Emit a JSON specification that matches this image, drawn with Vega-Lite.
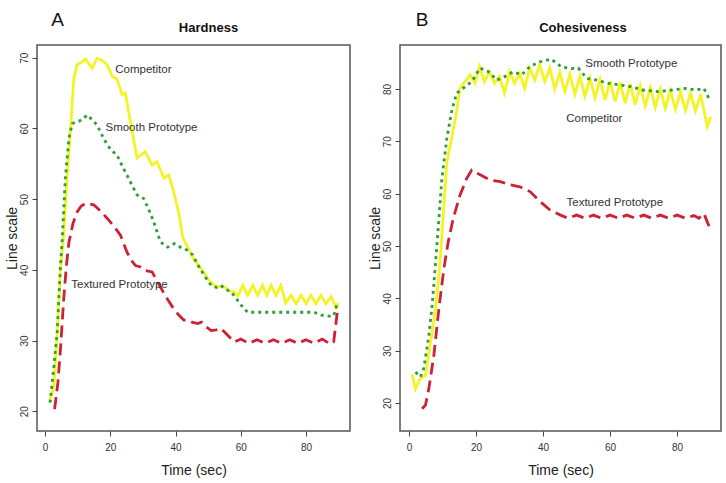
{
  "$schema": "https://vega.github.io/schema/vega-lite/v6.json",
  "background": "white",
  "padding": {"left": 4, "top": 10, "right": 0, "bottom": 0},
  "spacing": 16,
  "config": {
    "font": "Liberation Sans",
    "view": {"stroke": "#555", "strokeWidth": 1.5},
    "axis": {"grid": false, "domain": false, "tickColor": "#444", "tickSize": 5, "labelColor": "#333", "labelFontSize": 10, "labelFont": "Liberation Sans", "titleFont": "Liberation Sans", "titleFontSize": 14, "titleFontWeight": "normal", "titleColor": "#222"}
  },
  "datasets": {
    "hardness": [
      {"series":"Competitor","t":1.3,"v":21.3},{"series":"Competitor","t":2.7,"v":23.6},{"series":"Competitor","t":3.7,"v":31.2},{"series":"Competitor","t":4.7,"v":40},{"series":"Competitor","t":5.7,"v":45},{"series":"Competitor","t":6.7,"v":53},{"series":"Competitor","t":7.8,"v":60},{"series":"Competitor","t":8.8,"v":67.1},{"series":"Competitor","t":9.8,"v":69},{"series":"Competitor","t":11,"v":69.3},{"series":"Competitor","t":12.4,"v":69.8},{"series":"Competitor","t":14.4,"v":68.5},{"series":"Competitor","t":15.9,"v":69.9},{"series":"Competitor","t":17.5,"v":69.6},{"series":"Competitor","t":19,"v":69},{"series":"Competitor","t":20.5,"v":67.4},{"series":"Competitor","t":22,"v":67},{"series":"Competitor","t":23.6,"v":64.8},{"series":"Competitor","t":24.6,"v":65},{"series":"Competitor","t":26.5,"v":60},{"series":"Competitor","t":28.2,"v":55.8},{"series":"Competitor","t":30.7,"v":56.7},{"series":"Competitor","t":32.8,"v":54.8},{"series":"Competitor","t":34.3,"v":55.3},{"series":"Competitor","t":36.4,"v":53},{"series":"Competitor","t":37.9,"v":53.4},{"series":"Competitor","t":39.4,"v":51.1},{"series":"Competitor","t":41,"v":48},{"series":"Competitor","t":42.2,"v":44.6},{"series":"Competitor","t":43.7,"v":43.2},{"series":"Competitor","t":45.8,"v":41.3},{"series":"Competitor","t":47.8,"v":40.2},{"series":"Competitor","t":49.9,"v":38.7},{"series":"Competitor","t":51.9,"v":37.8},{"series":"Competitor","t":53.5,"v":37.6},{"series":"Competitor","t":55,"v":37.6},{"series":"Competitor","t":56.5,"v":37},{"series":"Competitor","t":58,"v":36.9},{"series":"Competitor","t":59.1,"v":36.3},{"series":"Competitor","t":60.6,"v":37.8},{"series":"Competitor","t":62.1,"v":36.4},{"series":"Competitor","t":63.7,"v":37.8},{"series":"Competitor","t":65.2,"v":36.4},{"series":"Competitor","t":66.7,"v":37.8},{"series":"Competitor","t":68,"v":36.4},{"series":"Competitor","t":69.3,"v":37.8},{"series":"Competitor","t":70.8,"v":36.4},{"series":"Competitor","t":72.3,"v":37.8},{"series":"Competitor","t":73.8,"v":35.3},{"series":"Competitor","t":75.4,"v":36.4},{"series":"Competitor","t":77,"v":35.2},{"series":"Competitor","t":78.5,"v":36.4},{"series":"Competitor","t":80,"v":35.2},{"series":"Competitor","t":81.5,"v":36.4},{"series":"Competitor","t":83,"v":35.2},{"series":"Competitor","t":84.6,"v":36.4},{"series":"Competitor","t":86.1,"v":35.2},{"series":"Competitor","t":87.7,"v":36.2},{"series":"Competitor","t":89.2,"v":34.7},{"series":"Competitor","t":90,"v":35.3},
      {"series":"Smooth Prototype","t":1.5,"v":21.2},{"series":"Smooth Prototype","t":2.6,"v":26},{"series":"Smooth Prototype","t":3.7,"v":31.2},{"series":"Smooth Prototype","t":4.7,"v":40.6},{"series":"Smooth Prototype","t":5.2,"v":44},{"series":"Smooth Prototype","t":6.2,"v":53},{"series":"Smooth Prototype","t":7.3,"v":58.6},{"series":"Smooth Prototype","t":8.3,"v":60.7},{"series":"Smooth Prototype","t":10.3,"v":61},{"series":"Smooth Prototype","t":11.5,"v":61.3},{"series":"Smooth Prototype","t":12.9,"v":61.9},{"series":"Smooth Prototype","t":14.3,"v":61.3},{"series":"Smooth Prototype","t":15.9,"v":60.5},{"series":"Smooth Prototype","t":17.5,"v":59},{"series":"Smooth Prototype","t":19,"v":57.7},{"series":"Smooth Prototype","t":20.5,"v":56.8},{"series":"Smooth Prototype","t":22,"v":56.3},{"series":"Smooth Prototype","t":23.5,"v":54.8},{"series":"Smooth Prototype","t":25.1,"v":53.4},{"series":"Smooth Prototype","t":26.6,"v":52},{"series":"Smooth Prototype","t":28.2,"v":50.6},{"series":"Smooth Prototype","t":30.2,"v":50.1},{"series":"Smooth Prototype","t":31.8,"v":48.5},{"series":"Smooth Prototype","t":33.3,"v":46.8},{"series":"Smooth Prototype","t":35.3,"v":44},{"series":"Smooth Prototype","t":36.5,"v":43.5},{"series":"Smooth Prototype","t":37.6,"v":43.2},{"series":"Smooth Prototype","t":39.6,"v":43.7},{"series":"Smooth Prototype","t":42.2,"v":43},{"series":"Smooth Prototype","t":43.5,"v":42.8},{"series":"Smooth Prototype","t":45.3,"v":42.1},{"series":"Smooth Prototype","t":46.8,"v":40.7},{"series":"Smooth Prototype","t":48.8,"v":39.2},{"series":"Smooth Prototype","t":50.9,"v":37.8},{"series":"Smooth Prototype","t":52.5,"v":37.5},{"series":"Smooth Prototype","t":53.9,"v":37.8},{"series":"Smooth Prototype","t":55.5,"v":37.2},{"series":"Smooth Prototype","t":57,"v":36.9},{"series":"Smooth Prototype","t":58.5,"v":36},{"series":"Smooth Prototype","t":60.1,"v":35},{"series":"Smooth Prototype","t":62.1,"v":34},{"series":"Smooth Prototype","t":65,"v":34},{"series":"Smooth Prototype","t":68,"v":34},{"series":"Smooth Prototype","t":71,"v":34},{"series":"Smooth Prototype","t":74,"v":34},{"series":"Smooth Prototype","t":77,"v":34},{"series":"Smooth Prototype","t":80,"v":34},{"series":"Smooth Prototype","t":82.5,"v":34},{"series":"Smooth Prototype","t":84.6,"v":33.6},{"series":"Smooth Prototype","t":87.7,"v":33.4},{"series":"Smooth Prototype","t":88.5,"v":33.5},{"series":"Smooth Prototype","t":89.7,"v":35.4},
      {"series":"Textured Prototype","t":2.9,"v":20.3},{"series":"Textured Prototype","t":3.9,"v":24},{"series":"Textured Prototype","t":4.7,"v":28.8},{"series":"Textured Prototype","t":5.7,"v":35.9},{"series":"Textured Prototype","t":6.5,"v":40.5},{"series":"Textured Prototype","t":7.3,"v":43.9},{"series":"Textured Prototype","t":8.5,"v":46.5},{"series":"Textured Prototype","t":9.8,"v":48.2},{"series":"Textured Prototype","t":11,"v":49},{"series":"Textured Prototype","t":12.4,"v":49.4},{"series":"Textured Prototype","t":14.9,"v":49.2},{"series":"Textured Prototype","t":17,"v":48.3},{"series":"Textured Prototype","t":19,"v":47.3},{"series":"Textured Prototype","t":21,"v":46.2},{"series":"Textured Prototype","t":23.1,"v":44.9},{"series":"Textured Prototype","t":25.1,"v":42.5},{"series":"Textured Prototype","t":26.5,"v":41.3},{"series":"Textured Prototype","t":27.7,"v":40.6},{"series":"Textured Prototype","t":29.2,"v":40.4},{"series":"Textured Prototype","t":30.7,"v":39.9},{"series":"Textured Prototype","t":32.8,"v":39.7},{"series":"Textured Prototype","t":34,"v":38.7},{"series":"Textured Prototype","t":35.3,"v":37.6},{"series":"Textured Prototype","t":37.3,"v":36},{"series":"Textured Prototype","t":39.4,"v":34.5},{"series":"Textured Prototype","t":41,"v":33.6},{"series":"Textured Prototype","t":42.5,"v":32.9},{"series":"Textured Prototype","t":43.7,"v":32.9},{"series":"Textured Prototype","t":45,"v":32.6},{"series":"Textured Prototype","t":46.8,"v":32.4},{"series":"Textured Prototype","t":48,"v":32.6},{"series":"Textured Prototype","t":49.5,"v":31.9},{"series":"Textured Prototype","t":50.9,"v":31.4},{"series":"Textured Prototype","t":52.5,"v":31.5},{"series":"Textured Prototype","t":53.9,"v":31.7},{"series":"Textured Prototype","t":55,"v":31.2},{"series":"Textured Prototype","t":56.5,"v":30.5},{"series":"Textured Prototype","t":58,"v":29.8},{"series":"Textured Prototype","t":60,"v":30.2},{"series":"Textured Prototype","t":62.5,"v":29.6},{"series":"Textured Prototype","t":65,"v":30.1},{"series":"Textured Prototype","t":67.5,"v":29.6},{"series":"Textured Prototype","t":70,"v":30.1},{"series":"Textured Prototype","t":72.5,"v":29.6},{"series":"Textured Prototype","t":75,"v":30.1},{"series":"Textured Prototype","t":77.5,"v":29.6},{"series":"Textured Prototype","t":80,"v":30.1},{"series":"Textured Prototype","t":82.5,"v":29.6},{"series":"Textured Prototype","t":85,"v":30.2},{"series":"Textured Prototype","t":87.5,"v":29.5},{"series":"Textured Prototype","t":88.5,"v":29.8},{"series":"Textured Prototype","t":89.7,"v":34.4}
    ],
    "cohesiveness": [
      {"series":"Competitor","t":0.9,"v":25.5},{"series":"Competitor","t":1.9,"v":22.7},{"series":"Competitor","t":3.3,"v":24.6},{"series":"Competitor","t":4.9,"v":25.3},{"series":"Competitor","t":6.5,"v":32},{"series":"Competitor","t":7.9,"v":38},{"series":"Competitor","t":9,"v":45},{"series":"Competitor","t":9.8,"v":52},{"series":"Competitor","t":11.3,"v":66.1},{"series":"Competitor","t":12.7,"v":70.6},{"series":"Competitor","t":14.2,"v":75.7},{"series":"Competitor","t":15.2,"v":80.1},{"series":"Competitor","t":16.7,"v":81.4},{"series":"Competitor","t":18.2,"v":82.7},{"series":"Competitor","t":19.7,"v":81.1},{"series":"Competitor","t":21,"v":84.3},{"series":"Competitor","t":22.5,"v":81.4},{"series":"Competitor","t":24,"v":83.3},{"series":"Competitor","t":25.5,"v":81.1},{"series":"Competitor","t":27,"v":82.4},{"series":"Competitor","t":28.5,"v":79.2},{"series":"Competitor","t":30,"v":83.3},{"series":"Competitor","t":31.5,"v":81.1},{"series":"Competitor","t":33,"v":83},{"series":"Competitor","t":34.5,"v":80.1},{"series":"Competitor","t":36,"v":84},{"series":"Competitor","t":37.5,"v":81.7},{"series":"Competitor","t":39,"v":84.6},{"series":"Competitor","t":40.5,"v":81.4},{"series":"Competitor","t":42,"v":84},{"series":"Competitor","t":43.5,"v":80},{"series":"Competitor","t":45,"v":83.2},{"series":"Competitor","t":46.5,"v":79.5},{"series":"Competitor","t":48,"v":82.8},{"series":"Competitor","t":49.5,"v":79},{"series":"Competitor","t":51,"v":82.4},{"series":"Competitor","t":52.5,"v":78.6},{"series":"Competitor","t":54,"v":82.1},{"series":"Competitor","t":55.5,"v":78.3},{"series":"Competitor","t":57,"v":81.8},{"series":"Competitor","t":58.5,"v":77.9},{"series":"Competitor","t":60,"v":81.5},{"series":"Competitor","t":61.5,"v":77.6},{"series":"Competitor","t":63,"v":81.2},{"series":"Competitor","t":64.5,"v":77.3},{"series":"Competitor","t":66,"v":81},{"series":"Competitor","t":67.5,"v":77},{"series":"Competitor","t":69,"v":80.6},{"series":"Competitor","t":70.5,"v":76.8},{"series":"Competitor","t":72,"v":80.3},{"series":"Competitor","t":73.5,"v":76.5},{"series":"Competitor","t":75,"v":80},{"series":"Competitor","t":76.5,"v":76.3},{"series":"Competitor","t":78,"v":79.7},{"series":"Competitor","t":79.5,"v":76.1},{"series":"Competitor","t":81,"v":79.4},{"series":"Competitor","t":82.5,"v":75.9},{"series":"Competitor","t":84,"v":79.2},{"series":"Competitor","t":85.5,"v":75.8},{"series":"Competitor","t":87,"v":79},{"series":"Competitor","t":88,"v":76},{"series":"Competitor","t":89,"v":72.8},{"series":"Competitor","t":90,"v":74.7},
      {"series":"Smooth Prototype","t":1.9,"v":25.9},{"series":"Smooth Prototype","t":3.4,"v":25},{"series":"Smooth Prototype","t":4.4,"v":26.6},{"series":"Smooth Prototype","t":5.9,"v":32.9},{"series":"Smooth Prototype","t":6.9,"v":38.7},{"series":"Smooth Prototype","t":8.4,"v":50.8},{"series":"Smooth Prototype","t":9.8,"v":62.9},{"series":"Smooth Prototype","t":11.3,"v":70.6},{"series":"Smooth Prototype","t":12.7,"v":75.7},{"series":"Smooth Prototype","t":14.2,"v":79.2},{"series":"Smooth Prototype","t":16.7,"v":80.4},{"series":"Smooth Prototype","t":18.7,"v":81.4},{"series":"Smooth Prototype","t":21.2,"v":84},{"series":"Smooth Prototype","t":23.7,"v":83.3},{"series":"Smooth Prototype","t":26.2,"v":81.7},{"series":"Smooth Prototype","t":28.7,"v":82.4},{"series":"Smooth Prototype","t":31.1,"v":83.3},{"series":"Smooth Prototype","t":33.6,"v":82.7},{"series":"Smooth Prototype","t":36.1,"v":84.3},{"series":"Smooth Prototype","t":39.1,"v":85.2},{"series":"Smooth Prototype","t":42.4,"v":85.7},{"series":"Smooth Prototype","t":45.5,"v":84.2},{"series":"Smooth Prototype","t":48.4,"v":83.9},{"series":"Smooth Prototype","t":50.5,"v":84},{"series":"Smooth Prototype","t":53.1,"v":82},{"series":"Smooth Prototype","t":56.1,"v":81.7},{"series":"Smooth Prototype","t":59.1,"v":81.1},{"series":"Smooth Prototype","t":62.6,"v":80.8},{"series":"Smooth Prototype","t":66.6,"v":80.4},{"series":"Smooth Prototype","t":69.6,"v":79.8},{"series":"Smooth Prototype","t":74.5,"v":79.5},{"series":"Smooth Prototype","t":78.5,"v":79.8},{"series":"Smooth Prototype","t":82.5,"v":80.1},{"series":"Smooth Prototype","t":85.5,"v":79.8},{"series":"Smooth Prototype","t":88,"v":80.1},{"series":"Smooth Prototype","t":89.5,"v":78.2},
      {"series":"Textured Prototype","t":3.9,"v":18.9},{"series":"Textured Prototype","t":4.9,"v":19.6},{"series":"Textured Prototype","t":5.9,"v":22.7},{"series":"Textured Prototype","t":7.4,"v":29.1},{"series":"Textured Prototype","t":8.9,"v":38},{"series":"Textured Prototype","t":10.4,"v":45.7},{"series":"Textured Prototype","t":11.7,"v":50.8},{"series":"Textured Prototype","t":13.2,"v":55.3},{"series":"Textured Prototype","t":15.2,"v":59.7},{"series":"Textured Prototype","t":17.2,"v":62.9},{"series":"Textured Prototype","t":18.7,"v":64.5},{"series":"Textured Prototype","t":21.2,"v":63.6},{"series":"Textured Prototype","t":24.2,"v":62.6},{"series":"Textured Prototype","t":27.2,"v":62.3},{"series":"Textured Prototype","t":30.1,"v":61.7},{"series":"Textured Prototype","t":33.1,"v":61.3},{"series":"Textured Prototype","t":36.1,"v":60.4},{"series":"Textured Prototype","t":39.1,"v":58.5},{"series":"Textured Prototype","t":42.2,"v":56.8},{"series":"Textured Prototype","t":45.2,"v":55.9},{"series":"Textured Prototype","t":47.5,"v":55.3},{"series":"Textured Prototype","t":50,"v":55.9},{"series":"Textured Prototype","t":52.5,"v":55.3},{"series":"Textured Prototype","t":55,"v":55.9},{"series":"Textured Prototype","t":57.5,"v":55.3},{"series":"Textured Prototype","t":60,"v":55.9},{"series":"Textured Prototype","t":62.5,"v":55.3},{"series":"Textured Prototype","t":65,"v":55.9},{"series":"Textured Prototype","t":67.5,"v":55.3},{"series":"Textured Prototype","t":70,"v":55.9},{"series":"Textured Prototype","t":72.5,"v":55.3},{"series":"Textured Prototype","t":75,"v":55.9},{"series":"Textured Prototype","t":77.5,"v":55.3},{"series":"Textured Prototype","t":80,"v":55.9},{"series":"Textured Prototype","t":82.5,"v":55.3},{"series":"Textured Prototype","t":85,"v":55.8},{"series":"Textured Prototype","t":86.5,"v":55.3},{"series":"Textured Prototype","t":88,"v":56.2},{"series":"Textured Prototype","t":90,"v":53}
    ],
    "hardnessLabels": [
      {"label":"Competitor","t":21.5,"v":68.3},
      {"label":"Smooth Prototype","t":18.5,"v":60.1},
      {"label":"Textured Prototype","t":8,"v":37.9}
    ],
    "cohesivenessLabels": [
      {"label":"Smooth Prototype","t":52.6,"v":84.7},
      {"label":"Competitor","t":46.9,"v":74.2},
      {"label":"Textured Prototype","t":47,"v":58.3}
    ],
    "hardnessLetter": [{"letter":"A","t":3.8,"v":75.3}],
    "cohesivenessLetter": [{"letter":"B","t":3.9,"v":93.1}],
    "hardnessTitle": [{"title":"Hardness","t":50.1,"v":74.25}],
    "cohesivenessTitle": [{"title":"Cohesiveness","t":51.9,"v":91.66}]
  },
  "hconcat": [
    {
      "width": 313,
      "height": 386,
      "encoding": {
        "x": {"field": "t", "type": "quantitative", "scale": {"domain": [-2.5, 93.5], "nice": false, "zero": false}, "axis": {"values": [0, 20, 40, 60, 80], "title": "Time (sec)", "labelPadding": 6, "titlePadding": 11}},
        "y": {"field": "v", "type": "quantitative", "scale": {"domain": [17.2, 71.8], "nice": false, "zero": false}, "axis": {"values": [20, 30, 40, 50, 60, 70], "title": "Line scale", "labelAngle": -90, "labelPadding": 3, "titlePadding": 0}}
      },
      "layer": [
        {
          "data": {"name": "hardness"},
          "mark": {"type": "line", "strokeWidth": 2.8, "strokeCap": "butt"},
          "encoding": {
            "color": {"field": "series", "type": "nominal", "scale": {"domain": ["Competitor", "Smooth Prototype", "Textured Prototype"], "range": ["#f4f424", "#2f9e3a", "#cc2233"]}, "legend": null},
            "strokeDash": {"field": "series", "type": "nominal", "scale": {"domain": ["Competitor", "Smooth Prototype", "Textured Prototype"], "range": [[1, 0], [3, 4], [12, 6]]}, "legend": null}
          }
        },
        {
          "data": {"name": "hardnessLabels"},
          "mark": {"type": "text", "align": "left", "baseline": "middle", "fontSize": 11.5, "color": "#333"},
          "encoding": {"text": {"field": "label"}}
        },
        {
          "data": {"name": "hardnessLetter"},
          "mark": {"type": "text", "align": "center", "baseline": "middle", "fontSize": 19, "color": "#111"},
          "encoding": {"text": {"field": "letter"}}
        },
        {
          "data": {"name": "hardnessTitle"},
          "mark": {"type": "text", "align": "center", "baseline": "middle", "fontSize": 13, "fontWeight": "bold", "color": "#111"},
          "encoding": {"text": {"field": "title"}}
        }
      ]
    },
    {
      "width": 321,
      "height": 386,
      "encoding": {
        "x": {"field": "t", "type": "quantitative", "scale": {"domain": [-2.7, 93.1], "nice": false, "zero": false}, "axis": {"values": [0, 20, 40, 60, 80], "title": "Time (sec)", "labelPadding": 6, "titlePadding": 11}},
        "y": {"field": "v", "type": "quantitative", "scale": {"domain": [14.65, 88.4], "nice": false, "zero": false}, "axis": {"values": [20, 30, 40, 50, 60, 70, 80], "title": "Line scale", "labelAngle": -90, "labelPadding": 3, "titlePadding": 0}}
      },
      "layer": [
        {
          "data": {"name": "cohesiveness"},
          "mark": {"type": "line", "strokeWidth": 2.8, "strokeCap": "butt"},
          "encoding": {
            "color": {"field": "series", "type": "nominal", "scale": {"domain": ["Competitor", "Smooth Prototype", "Textured Prototype"], "range": ["#f4f424", "#2f9e3a", "#cc2233"]}, "legend": null},
            "strokeDash": {"field": "series", "type": "nominal", "scale": {"domain": ["Competitor", "Smooth Prototype", "Textured Prototype"], "range": [[1, 0], [3, 4], [12, 6]]}, "legend": null}
          }
        },
        {
          "data": {"name": "cohesivenessLabels"},
          "mark": {"type": "text", "align": "left", "baseline": "middle", "fontSize": 11.5, "color": "#333"},
          "encoding": {"text": {"field": "label"}}
        },
        {
          "data": {"name": "cohesivenessLetter"},
          "mark": {"type": "text", "align": "center", "baseline": "middle", "fontSize": 19, "color": "#111"},
          "encoding": {"text": {"field": "letter"}}
        },
        {
          "data": {"name": "cohesivenessTitle"},
          "mark": {"type": "text", "align": "center", "baseline": "middle", "fontSize": 13, "fontWeight": "bold", "color": "#111"},
          "encoding": {"text": {"field": "title"}}
        }
      ]
    }
  ]
}
